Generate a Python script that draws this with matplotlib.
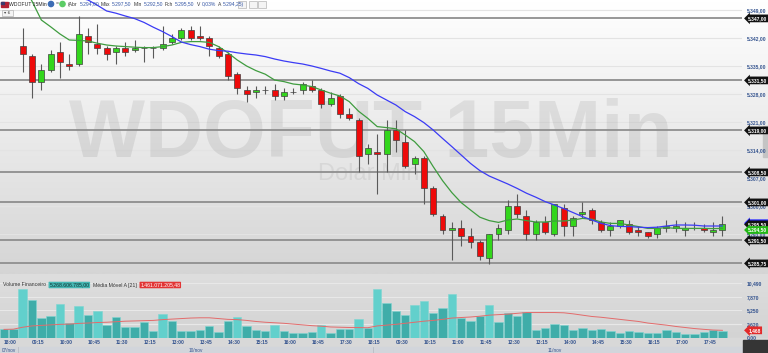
import numpy as np
import matplotlib
matplotlib.use('Agg')
import matplotlib.pyplot as plt
from matplotlib.patches import Rectangle, Circle
from matplotlib.colors import to_rgb
import matplotlib.transforms as mtransforms

W, H = 768, 353
SMALL = 'Liberation Sans'

# 15 min candles, slot 0 = 07/nov 18:00, slot 2 = 10/nov 09:00, slot 40 = 11/nov 09:00
days = ['07/nov', '10/nov', '11/nov']
day_start = [0, 2, 40]
tick_slots = list(range(0, 78, 3))
tick_labels = ['18:00', '09:15', '10:00', '10:45', '11:30', '12:15', '13:00', '13:45', '14:30',
               '15:15', '16:00', '16:45', '17:30', '18:15', '09:30', '10:15', '11:00', '11:45',
               '12:30', '13:15', '14:00', '14:45', '15:30', '16:15', '17:00', '17:45']

nan = np.nan
opens = [nan, nan,
         5340, 5337.5, 5331, 5334, 5338.5, 5335.5, 5335.5, 5342.5, 5340.5, 5339.5,
         5338.5, 5339.5, 5339, 5339.5, 5339.5, 5339.5, 5341, 5342, 5344, 5342.5,
         5342, 5339.5, 5338, 5333, 5329, 5328.5, 5329, 5329, 5327.5, 5328.5,
         5329, 5330, 5329, 5325.5, 5327.5, 5323, 5321.5, 5313, 5313.5, 5313,
         5319, 5316, 5310.5, 5312, 5304.5, 5297.5, 5294, 5294.5, 5292.5, 5291,
         5287, 5293, 5294, 5300, 5297.5, 5293, 5296, 5293, 5299.5, 5295,
         5298, 5299, 5296, 5294, 5295, 5295.5, 5294, 5293.5, 5293, 5294.5,
         5294.5, 5294, 5294.5, 5294.5, 5293.5, 5294]
highs = [nan, nan,
         5344.5, 5338, 5335.5, 5339, 5341, 5338, 5347.5, 5344.5, 5345.5, 5340,
         5340, 5341, 5341.5, 5340, 5340, 5345, 5343, 5344.5, 5345, 5345,
         5342.5, 5340, 5338.5, 5333.5, 5330, 5330, 5330, 5330.5, 5329.5, 5329.5,
         5331, 5331.5, 5329.5, 5328.5, 5328, 5324.5, 5322, 5315.5, 5318, 5321.5,
         5321.5, 5319, 5312.5, 5312.5, 5305, 5298, 5296, 5296.5, 5294.5, 5291.5,
         5293, 5295.5, 5301.5, 5303, 5299, 5296.5, 5297.5, 5300.5, 5300.5, 5297.5,
         5301, 5299.5, 5296.5, 5296, 5296.5, 5296.5, 5295, 5293.5, 5295, 5296.5,
         5296.5, 5296, 5296, 5295.5, 5296, 5297.5]
lows = [nan, nan,
        5333.5, 5327, 5329, 5333.5, 5332, 5334, 5335, 5338, 5338, 5336.5,
        5335.5, 5337.5, 5338.5, 5336, 5337, 5339, 5340.5, 5341.5, 5341.5, 5341.5,
        5337.5, 5337, 5331.5, 5328, 5326, 5327, 5328, 5326.5, 5326.5, 5328,
        5328, 5328.5, 5324.5, 5325, 5322, 5321.5, 5308.5, 5310.5, 5303, 5308.5,
        5313.5, 5309.5, 5308, 5300.5, 5297.5, 5293, 5286.5, 5290, 5289.5, 5286.5,
        5285.5, 5291.5, 5293, 5297, 5291.5, 5291.5, 5293, 5292.5, 5292.5, 5292.5,
        5297, 5295.5, 5293.5, 5292.5, 5294.5, 5293, 5292.5, 5292, 5292, 5293.5,
        5293.5, 5292.5, 5294, 5293.5, 5292.5, 5292.5]
closes = [nan, nan,
          5338, 5331, 5334, 5338, 5336, 5335, 5343, 5341, 5339.5, 5338,
          5339.5, 5338.5, 5339.5, 5339.5, 5339.5, 5340.5, 5342, 5344, 5342, 5342,
          5340, 5337.5, 5332.5, 5329.5, 5328, 5329, 5329, 5327.5, 5328.5, 5328.5,
          5330.5, 5329, 5325.5, 5327, 5323, 5322, 5312.5, 5314.5, 5313, 5319,
          5316.5, 5310, 5312, 5304.5, 5298, 5294, 5294.5, 5292.5, 5291, 5287.5,
          5293, 5294.5, 5300, 5298, 5293, 5296, 5293.5, 5300.5, 5295, 5297,
          5298.5, 5296.5, 5294, 5295, 5296.5, 5293.5, 5293.5, 5292.5, 5294.5, 5295,
          5295, 5294.5, 5294.5, 5294, 5294, 5295.5]

ma_fast = [5358, 5357, 5355.5, 5351.3, 5346.6, 5344.9, 5343.1, 5341.6, 5341.5, 5341.35,
           5340.8, 5340.35, 5340.1, 5339.95, 5339.8, 5339.7, 5339.7, 5339.95, 5340.35, 5341.0,
           5341.2, 5341.2, 5341.0, 5339.95, 5338.4, 5336.6, 5335.1, 5333.95, 5333.05, 5331.6,
           5331.2, 5330.6, 5330.35, 5329.95, 5329.1, 5328.3, 5327.6, 5326.2, 5323.8, 5322.0,
           5319.95, 5319.7, 5319.4, 5317.85, 5316.2, 5313.7, 5309.95, 5306.45, 5303.45, 5300.95,
           5299.1, 5297.3, 5296.45, 5296.0, 5296.6, 5296.85, 5296.45, 5296.1, 5296.1, 5296.35,
           5296.35, 5296.6, 5297.0, 5296.8, 5296.1, 5295.75, 5295.75, 5295.35, 5294.95, 5294.5,
           5294.5, 5294.7, 5294.5, 5294.5, 5294.5, 5294.5, 5294.45, 5294.5]
ma_slow = [5357.5, 5356.8, 5356.0, 5355.3, 5354.6, 5353.9, 5353.3, 5352.7, 5352.2, 5351.6,
           5350.3, 5348.85, 5348.3, 5347.6, 5346.95, 5346.0, 5344.8, 5343.7, 5342.45, 5341.1,
           5340.45, 5339.95, 5339.3, 5338.95, 5338.8, 5338.4, 5338.1, 5337.85, 5337.45, 5336.85,
           5336.35, 5335.95, 5335.6, 5335.1, 5334.5, 5333.85, 5333.3, 5332.2, 5330.7, 5329.5,
           5327.85, 5326.6, 5325.35, 5323.7, 5322.45, 5320.95, 5319.1, 5317.0, 5314.95, 5312.85,
           5310.75, 5308.95, 5307.6, 5306.6, 5305.6, 5304.5, 5303.3, 5302.3, 5301.2, 5300.35,
           5299.45, 5298.45, 5297.45, 5296.6, 5295.75, 5295.2, 5295.0, 5294.95, 5294.8, 5294.7,
           5294.8, 5295.1, 5295.35, 5295.35, 5295.3, 5295.1, 5295.1, 5295.1]

# volume financeiro (bilhoes)
volume = [1.71, 1.71, 9.41, 7.20, 3.79, 4.17, 6.57, 2.78, 6.13, 4.30,
          5.12, 2.46, 3.92, 2.02, 2.02, 3.10, 1.26, 4.55, 3.22, 1.33,
          1.33, 1.52, 2.34, 1.14, 3.22, 4.04, 2.27, 1.52, 1.33, 2.46,
          1.26, 0.88, 0.88, 1.07, 2.53, 0.95, 1.71, 1.77, 3.60, 1.90,
          9.29, 6.76, 5.05, 4.42, 6.25, 7.01, 4.80, 5.69, 8.34, 3.85,
          3.16, 4.17, 6.38, 3.10, 4.74, 4.11, 4.99, 1.45, 1.83, 2.59,
          2.40, 1.58, 1.96, 1.45, 1.71, 1.39, 0.95, 1.26, 1.20, 0.88,
          0.88, 1.52, 1.14, 0.76, 0.82, 1.14, 1.52, 1.33]
vol_ma = [1.64, 1.68, 2.05, 2.30, 2.40, 2.50, 2.60, 2.65, 2.78, 2.85,
          2.95, 3.00, 3.10, 3.20, 3.25, 3.30, 3.35, 3.50, 3.60, 3.70,
          3.80, 3.85, 3.85, 3.70, 3.55, 3.50, 3.35, 3.15, 3.00, 2.90,
          2.80, 2.65, 2.50, 2.35, 2.25, 2.10, 2.05, 2.00, 1.98, 1.96,
          2.30, 2.45, 2.60, 2.80, 3.00, 3.20, 3.35, 3.55, 3.80, 3.90,
          4.00, 4.15, 4.35, 4.45, 4.55, 4.70, 4.85, 4.85, 4.85, 4.85,
          4.80, 4.60, 4.35, 4.10, 3.95, 3.75, 3.55, 3.35, 3.15, 2.85,
          2.65, 2.45, 2.20, 2.00, 1.80, 1.65, 1.52, 1.46]
light_bars = [2, 6, 8, 10, 17, 25, 29, 34, 38, 40, 44, 45, 48, 52]

levels = [5347, 5331.5, 5319, 5308.5, 5301, 5291.5, 5285.75]
price_ticks = [5349, 5342, 5335, 5328, 5321, 5314, 5307, 5300, 5293, 5286]
vol_ticks = [0, 2.62, 5.25, 7.87, 10.49]
vol_tick_labels = ['0.00', '2,620', '5,250', '7,870', '10,490']


def br(v):
    return f"{v:,.2f}".replace(',', '#').replace('.', ',').replace('#', '.')


def box(x0, y0, x1, y1):
    return [x0 / W, 1 - y1 / H, (x1 - x0) / W, (y1 - y0) / H]


fig = plt.figure(figsize=(W / 100, H / 100), dpi=100)
fig.patch.set_facecolor('#dadada')

# background layer in pixel coords
bg = fig.add_axes([0, 0, 1, 1], zorder=0)
bg.axis('off')


def grad(x0, x1, y0, y1, c0, c1):
    t = np.linspace(0, 1, 64)[:, None, None]
    arr = np.array(to_rgb(c0)) + (np.array(to_rgb(c1)) - np.array(to_rgb(c0))) * t
    bg.imshow(arr, extent=(x0, x1, y1, y0), aspect='auto', interpolation='bilinear')


grad(0, W, 0, 274, '#ffffff', '#d5d5d5')
grad(0, W, 274, 338, '#dedede', '#d3d3d3')
bg.add_patch(Rectangle((0, 338), W, 9, color='#d8d8d8'))
bg.add_patch(Rectangle((0, 347), W, 6, color='#d2d5db'))
bg.add_patch(Rectangle((743, 340), 25, 13, color='#353535'))
bg.add_patch(Rectangle((763, 126), 5, 31, color='#c4c4c4'))
bg.set_xlim(0, W); bg.set_ylim(H, 0)

x = np.arange(len(volume))
o, hi, lo, c = map(np.array, (opens, highs, lows, closes))

# ---- price panel ----
ax = fig.add_axes(box(0, 0, 742, 274), zorder=2)
ax.patch.set_visible(False)
ax.set_xlim(-0.43, 79.1)
ax.set_ylim(5283.1, 5351.6)
for s in ax.spines.values():
    s.set_visible(False)

for t in price_ticks:
    ax.axhline(t, color='#e3e3e3', lw=0.8, zorder=1)
for lv in levels:
    ax.axhline(lv, color='#8e8e8e', lw=1.3, zorder=2)

ax.text(0.5, 5312.4, 'WDOFUT 15Min', transform=ax.get_yaxis_transform(), ha='center',
        va='baseline', fontsize=58, fontweight='bold', family='Liberation Sans',
        color='black', alpha=0.075, zorder=1)
ax.text(0.5, 5306.6, 'Dolar Mini', transform=ax.get_yaxis_transform(), ha='center',
        va='baseline', fontsize=17, family='Liberation Sans', color='black', alpha=0.06, zorder=1)

ok = ~np.isnan(c)
ax.vlines(x[ok], lo[ok], hi[ok], color='#5a5a5a', lw=0.8, zorder=3)
cols = np.where(c[ok] >= o[ok], '#33d61c', '#ee0a0a')
ax.bar(x[ok], c[ok] - o[ok], bottom=o[ok], width=0.64, color=cols, edgecolor='#404040',
       linewidth=0.5, zorder=4)
ax.plot(x, ma_fast, color='#3f9c3f', lw=0.9, zorder=5)
ax.plot(x, ma_slow, color='#3b3bf5', lw=0.9, zorder=5)

ax.yaxis.tick_right()
ax.set_yticks(price_ticks)
ax.set_yticklabels([br(t) for t in price_ticks], family=SMALL, fontweight='bold')
ax.tick_params(axis='y', length=0, pad=3.6, labelsize=3.6, labelcolor='#35548f')
ax.set_xticks([])


def tag(a, y, s, fc, tc='white'):
    a.text(1.0085, y, s, transform=a.get_yaxis_transform(), ha='left', va='center',
           fontsize=3.5, color=tc, fontweight='bold', family=SMALL,
           bbox=dict(boxstyle='larrow,pad=0.28', fc=fc, ec='none'), clip_on=False, zorder=10)


for lv in levels:
    tag(ax, lv, br(lv), '#111111')
tag(ax, ma_slow[-1] + 0.7, br(ma_slow[-1]), '#2b2bff')
tag(ax, closes[-1], br(closes[-1]), '#111111')
tag(ax, ma_fast[-1] - 0.4, br(ma_fast[-1]), '#22b814')

# ---- volume panel ----
axv = fig.add_axes(box(0, 274, 742, 338), zorder=2)
axv.patch.set_visible(False)
axv.set_xlim(-0.43, 79.1)
axv.set_ylim(0, 12.19)
for s in axv.spines.values():
    s.set_visible(False)
for t in vol_ticks:
    axv.axhline(t, color='#e8e8e8', lw=0.8, zorder=1)
vcols = ['#62d0cc' if i in light_bars else '#3fada9' for i in x]
axv.bar(x, volume, width=0.9, color=vcols, edgecolor='#7fd6d2', linewidth=0.4, zorder=3)
axv.plot(x, vol_ma, color='#e36b6b', lw=0.7, zorder=4)
axv.yaxis.tick_right()
axv.set_yticks(vol_ticks)
axv.set_yticklabels(vol_tick_labels, family=SMALL, fontweight='bold')
axv.tick_params(axis='y', length=0, pad=3.6, labelsize=3.6, labelcolor='#35548f')
axv.set_xticks(tick_slots)
axv.set_xticklabels(tick_labels, family=SMALL, fontweight='bold', ha='left')
axv.tick_params(axis='x', length=0, pad=1.8, labelsize=3.6, labelcolor='#35548f')
tag(axv, vol_ma[-1], '1,468', '#e22a2a')

# date strip
trans = mtransforms.blended_transform_factory(axv.transData, axv.transAxes)
bounds = day_start + [79.1]
for i, d in enumerate(days):
    a0, a1 = bounds[i] - 0.5, bounds[i + 1] - 0.5
    if i > 0:
        axv.plot([a0, a0], [-0.14, -0.23], transform=trans, color='#b8bcc4', lw=0.6,
                 clip_on=False)
    cx = max((a0 + a1) / 2, 0.35)
    axv.text(cx, -0.2, d, transform=trans, ha='center', va='center', fontsize=3.4,
             color='#35548f', family=SMALL, clip_on=False)

# ---- overlay: header texts ----
ov = fig.add_axes([0, 0, 1, 1], zorder=20)
ov.axis('off')
ov.patch.set_visible(False)
ov.set_xlim(0, W); ov.set_ylim(H, 0)
fig.canvas.draw()
rend = fig.canvas.get_renderer()


def run(x0, y, parts, size=3.6, gap=2.0):
    for s, col, fc in parts:
        kw = dict(fontsize=size, color=col, va='center', ha='left', family=SMALL)
        if fc:
            kw['bbox'] = dict(boxstyle='round,pad=0.15', fc=fc, ec='none')
            x0 += 1.5
        t = ov.text(x0, y, s, **kw)
        bb = t.get_window_extent(rend)
        x0 += bb.width + (gap + 2 if fc else gap)


ov.add_patch(Rectangle((1, 1.5), 7, 5, color='#b22234'))
ov.add_patch(Rectangle((1, 1.5), 3, 2.6, color='#3c3b6e'))
run(9, 4.2, [('WDOFUT 15Min', '#222222', None)], size=3.7)
ov.add_patch(Circle((51, 4), 2.6, color='#3d6db5'))
ov.text(57, 4.2, '=', fontsize=3.7, color='#444444', va='center', ha='center', family=SMALL)
ov.add_patch(Circle((62.5, 4), 2.6, color='#5ccc66'))
dark, blue = '#333333', '#3557a6'
run(68, 4.2, [('(Abr', dark, None), ('5.294,00', blue, None), ('Máx', dark, None),
              ('5.297,50', blue, None), ('Mín', dark, None), ('5.292,50', blue, None),
              ('Fch', dark, None), ('5.295,50', blue, None), ('V', dark, None),
              ('0,03%', blue, None), ('A', dark, None), ('5.294,25)', blue, None)],
    size=3.6, gap=1.8)
for bx in (238, 249, 258):
    ov.add_patch(Rectangle((bx, 1), 7.5, 6.5, fc='#f4f4f4', ec='#b5b5b5', lw=0.5))
ov.add_patch(Rectangle((2, 9.5), 11, 6, fc='#f4f4f4', ec='#b5b5b5', lw=0.5))
ov.text(7.5, 12.5, '▾ 6', fontsize=3.2, color='#444444', va='center', ha='center')

run(3, 285, [('Volume Financeiro', '#333333', None),
             ('5.268.606.785,00', '#10302f', '#45b7b3'),
             ('Média Móvel A [21]', '#333333', None),
             ('1.461.071.205,48', 'white', '#e23535')], size=3.7, gap=1.8)

fig.savefig('out.png', dpi=100, facecolor=fig.get_facecolor())
